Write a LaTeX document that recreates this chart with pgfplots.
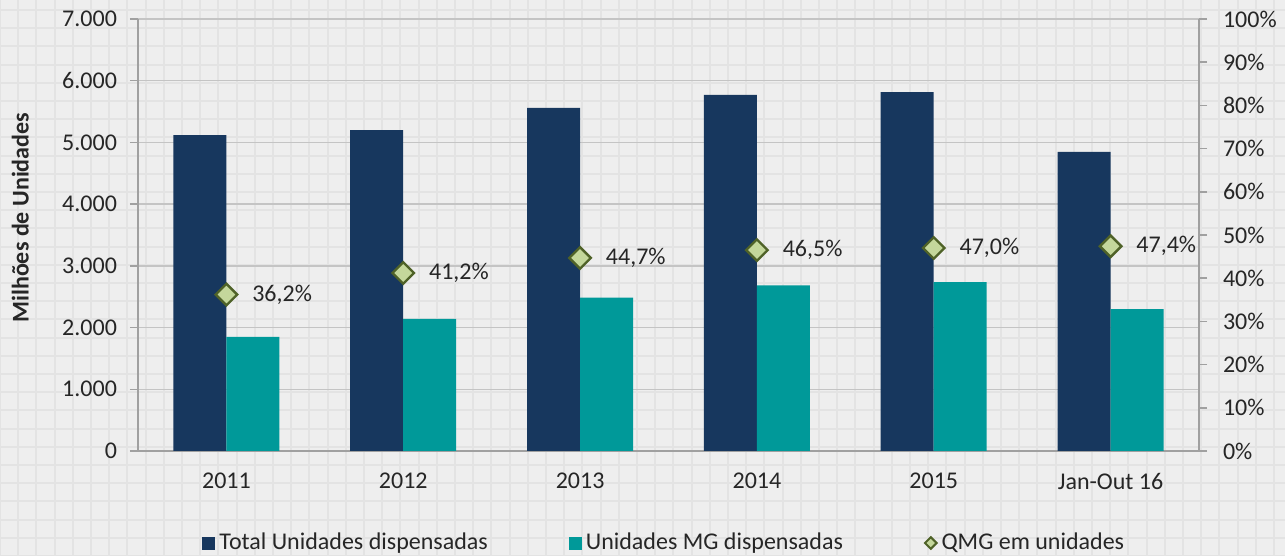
\documentclass[border=0pt]{standalone}
\usepackage{fontspec}
\setmainfont{Carlito}
\usepackage{pgfplots}
\pgfplotsset{compat=1.18}
\definecolor{navy}{HTML}{17375E}
\definecolor{tealc}{HTML}{009999}
\definecolor{qfill}{HTML}{C4D79B}
\definecolor{qdraw}{HTML}{4F6228}
\definecolor{bgc}{HTML}{EEEEEE}
\definecolor{bgl}{HTML}{E3E3E3}
\definecolor{gridc}{HTML}{C4C4C4}
\definecolor{axc}{HTML}{A0A0A0}
\begin{document}
\begin{tikzpicture}
\useasboundingbox (0,0) rectangle (642.5pt,278pt);
\fill[bgc] (0,0) rectangle (642.5pt,278pt);
\draw[bgl, line width=1pt, step=9.1pt] (0,0) grid (642.5pt,278pt);
\begin{axis}[
  at={(69pt,52.5pt)}, anchor=south west,
  scale only axis, width=530.5pt, height=216pt,
  ymin=0, ymax=7000, ytick={0,1000,...,7000},
  xmin=-0.5, xmax=5.5,
  xtick={0,...,5},
  xticklabels={2011,2012,2013,2014,2015,Jan-Out 16},
  minor xtick={-0.5,0.5,...,5.5},
  xtick style={draw=none},
  minor x tick style={axc, line width=0.75pt},
  minor tick length=4pt,
  major tick length=4pt,
  tick align=outside,
  ytick style={axc, line width=0.75pt},
  axis x line*=bottom, axis y line*=left,
  axis line style={axc, line width=0.75pt, -},
  ymajorgrids, major grid style={gridc, line width=0.75pt},
  /pgf/number format/.cd, 1000 sep={.}, assume math mode=true, /pgfplots/.cd,
  tick label style={font=\fontsize{12}{14}\selectfont, text=black!85},
  yticklabel style={xshift=-3pt},
  xticklabel style={yshift=-3.5pt},
  ylabel={Milhões de Unidades},
  ylabel style={font=\bfseries\fontsize{12}{14}\selectfont, text=black!85, at={(axis description cs:-0.111,0.54)}, anchor=center},
  ybar=0pt, bar width=26.5pt,
  legend columns=3,
  legend style={at={(0.497,-0.213)}, anchor=center, draw=none, fill=none,
    font=\fontsize{12}{14}\selectfont, text=black!85,
    /tikz/every even column/.append style={column sep=38.5pt}},
]
\addplot[fill=navy, draw=none,
  legend image code/.code={\fill[navy] (0pt,-3.25pt) rectangle (6.5pt,3.25pt);}]
  coordinates {(0,5120)(1,5200)(2,5560)(3,5770)(4,5815)(5,4845)};
\addlegendentry{Total Unidades dispensadas}
\addplot[fill=tealc, draw=none,
  legend image code/.code={\fill[tealc] (0pt,-3.25pt) rectangle (6.5pt,3.25pt);}]
  coordinates {(0,1850)(1,2140)(2,2485)(3,2685)(4,2735)(5,2298)};
\addlegendentry{Unidades MG dispensadas}
\addlegendimage{legend image code/.code={\filldraw[fill=qfill,draw=qdraw,line width=1pt] (3pt,2.9pt)--(5.9pt,0pt)--(3pt,-2.9pt)--(0.1pt,0pt)--cycle;}}
\addlegendentry{QMG em unidades}
\end{axis}
\begin{axis}[
  at={(69pt,52.5pt)}, anchor=south west,
  scale only axis, width=530.5pt, height=216pt,
  xmin=-0.5, xmax=5.5, ymin=0, ymax=100,
  axis x line=none, axis y line*=right,
  axis line style={axc, line width=0.75pt, -},
  ytick={0,10,...,100},
  ytick style={axc, line width=0.75pt},
  tick align=outside, major tick length=4pt,
  /pgf/number format/.cd, assume math mode=true, /pgfplots/.cd,
  yticklabel={\pgfmathprintnumber{\tick}\%},
  tick label style={font=\fontsize{12}{14}\selectfont, text=black!85},
  yticklabel style={xshift=4.5pt},
]
\addplot[only marks, mark=square*, mark size=3.8pt,
  mark options={rotate=45, fill=qfill, draw=qdraw, line width=1.2pt},
  point meta=y,
  nodes near coords={\pgfmathprintnumber[fixed,fixed zerofill,precision=1,use comma,assume math mode=true]{\pgfplotspointmeta}\%},
  every node near coord/.append style={anchor=west, xshift=9pt, font=\fontsize{12}{14}\selectfont, text=black!85}]
  coordinates {(0,36.2)(1,41.2)(2,44.7)(3,46.5)(4,47.0)(5,47.4)};
\end{axis}
\end{tikzpicture}
\end{document}
